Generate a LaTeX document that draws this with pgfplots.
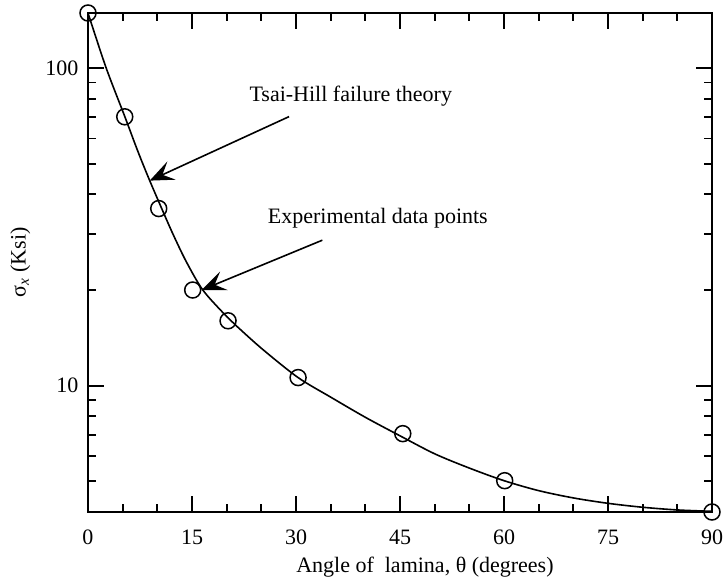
\documentclass[border=0pt]{standalone}
\usepackage{fontspec}
\setmainfont{Liberation Serif}
\usepackage{pgfplots}
\pgfplotsset{compat=1.18}
\usetikzlibrary{arrows.meta}
\begin{document}
\fontsize{11}{13}\selectfont
\begin{tikzpicture}
\begin{axis}[
  scale only axis,
  width=312pt, height=249.5pt,
  ymode=log,
  xmin=0, xmax=90, ymin=4, ymax=149,
  xtick={0,15,30,45,60,75,90},
  xticklabels={0,15,30,45,60,75,90},
  minor xtick={5,10,20,25,35,40,50,55,65,70,80,85},
  ytick={10,100},
  yticklabels={10,100},
  minor ytick={5,6,7,8,9,20,30,40,50,60,70,80,90},
  tick align=inside,
  major tick length=8pt,
  minor tick length=4pt,
  every tick/.style={black, line width=0.9pt},
  axis line style={line width=1pt},
  tick label style={font=\fontsize{11}{13}\selectfont},
  xticklabel style={yshift=-5pt},
  yticklabel style={xshift=-1pt},
  xlabel={Angle of\ \ lamina, θ (degrees)},
  ylabel={σ\textsubscript{\textit{x}} (Ksi)},
  xlabel style={at={(axis description cs:0.54,0)}, anchor=center, yshift=-27.5pt, font=\fontsize{11}{13}\selectfont},
  ylabel style={font=\fontsize{11}{13}\selectfont},
  clip=false,
]
\addplot[black, line width=0.8pt, smooth, tension=0.5] coordinates {
(0,149) (2.6,100.3) (5.3,70.4) (7.2,54.6) (8.9,44.2) (10.9,35.0) (12.3,29.85)
(14.2,24.5) (16.6,19.95) (20.0,16.5) (21.5,15.35) (25.2,13.0) (30.3,10.6)
(35,9.2) (40,7.95) (45,6.95) (50,6.1) (55,5.5) (60,5.02) (65,4.67)
(70,4.43) (75,4.26) (80,4.14) (85,4.06) (90,4.02)
};
\addplot[only marks, mark=o, mark size=4pt, mark options={line width=0.75pt, fill=none}, black] coordinates {
(0,149) (5.3,70.2) (10.2,36.1) (15.1,20.0) (20.2,16.0) (30.3,10.6) (45.4,7.06) (60.1,5.02) (90,4.0)
};
\draw[line width=0.8pt, -{Stealth[length=12pt,width=10pt,inset=5pt]}] (axis cs:29.0,70.3) -- (axis cs:8.9,44.2);
\draw[line width=0.8pt, -{Stealth[length=12pt,width=10pt,inset=5pt]}] (axis cs:33.8,28.7) -- (axis cs:16.4,20.0);
\node[font=\fontsize{11}{13}\selectfont] at (axis cs:37.9,81.7) {Tsai-Hill failure theory};
\node[font=\fontsize{11}{13}\selectfont] at (axis cs:41.8,33.7) {Experimental data points};
\end{axis}
\pgfresetboundingbox
\path[use as bounding box] (-44pt,-35.5pt) rectangle (319pt,256pt);
\end{tikzpicture}
\end{document}
